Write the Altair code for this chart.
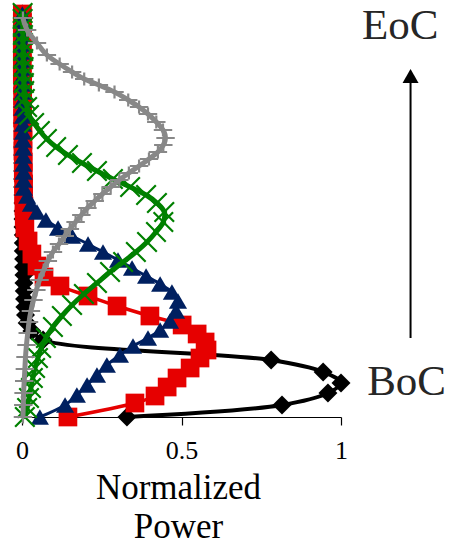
import altair as alt
import pandas as pd

# Axial power profiles over the cycle (BoC -> EoC); height in mm from core bottom
boc_height = [0, 12, 24, 34, 45, 57, 77, 86, 94, 102, 110, 118, 126, 134, 142, 150,
              158, 166, 174, 182, 190, 198, 206, 214, 222, 230, 238, 246, 254, 262,
              270, 278, 286, 294, 302, 310, 318, 326, 334, 342, 350, 358, 366, 374,
              382, 390, 398, 403]
boc_power = [0.329, 0.815, 0.959, 1.0, 0.944, 0.781, 0.066, 0.031, 0.016, 0.011, 0.009,
             0.008, 0.007, 0.006, 0.006, 0.005, 0.005, 0.004, 0.004, 0.004, 0.003, 0.003,
             0.003, 0.003, 0.003, 0.002, 0.002, 0.002, 0.002, 0.002, 0.002, 0.002, 0.002,
             0.001, 0.001, 0.001, 0.001, 0.001, 0.001, 0.001, 0.001, 0.001, 0.001, 0.001,
             0.001, 0.001, 0.001, 0.001]

s2_height = [0, 14, 21, 30, 39, 49, 59, 67, 75, 83, 92, 101, 111, 121, 131, 140, 151,
             163, 176, 189, 200, 211, 222, 233, 244, 255, 266, 277, 288, 299, 310, 321,
             332, 343, 354, 364, 374, 384, 394, 403]
s2_power = [0.144, 0.354, 0.417, 0.455, 0.486, 0.527, 0.558, 0.580, 0.574, 0.549, 0.502,
            0.401, 0.298, 0.207, 0.119, 0.069, 0.047, 0.031, 0.019, 0.009, 0.007, 0.006,
            0.005, 0.005, 0.004, 0.004, 0.003, 0.003, 0.003, 0.002, 0.002, 0.002, 0.002,
            0.001, 0.001, 0.001, 0.001, 0.001, 0.001, 0.001]

s3_height = [0, 12, 22, 32, 42, 52, 62, 71, 79, 87, 96, 106, 116, 125, 133, 141, 149,
             157, 165, 173, 181, 189, 197, 205, 213, 221, 229, 237, 245, 253, 261, 269,
             277, 285, 293, 301, 309, 317, 325, 333, 341, 349, 357, 365, 373, 381, 389,
             397, 403]
s3_power = [0.056, 0.135, 0.172, 0.204, 0.235, 0.266, 0.307, 0.348, 0.395, 0.433, 0.464,
            0.483, 0.489, 0.470, 0.433, 0.389, 0.345, 0.301, 0.254, 0.207, 0.157, 0.113,
            0.075, 0.047, 0.028, 0.016, 0.006, 0.005, 0.005, 0.004, 0.004, 0.004, 0.003,
            0.003, 0.003, 0.003, 0.002, 0.002, 0.002, 0.002, 0.002, 0.002, 0.001, 0.001,
            0.001, 0.001, 0.001, 0.001, 0.001]

s4_height = [0, 9, 19, 29, 39, 49, 59, 69, 79, 90, 101, 112, 123, 134, 145, 155, 165,
             175, 185, 195, 205, 214, 222, 230, 238, 246, 254, 262, 270, 278, 286, 294,
             302, 310, 318, 326, 334, 342, 350, 358, 366, 374, 382, 390, 398, 404]
s4_power = [0.009, 0.016, 0.022, 0.028, 0.034, 0.041, 0.050, 0.060, 0.075, 0.097, 0.125,
            0.157, 0.194, 0.235, 0.276, 0.317, 0.357, 0.392, 0.420, 0.443, 0.446, 0.423,
            0.389, 0.339, 0.285, 0.235, 0.188, 0.144, 0.107, 0.078, 0.056, 0.038, 0.022,
            0.016, 0.009, 0.007, 0.006, 0.005, 0.005, 0.004, 0.004, 0.003, 0.003, 0.003,
            0.002, 0.002]

eoc_height = [0, 12, 24, 36, 48, 60, 72, 84, 95, 106, 117, 127, 137, 147, 156, 165, 173,
              181, 188, 195, 202, 209, 216, 223, 230, 237, 244, 251, 258, 265, 272, 279,
              287, 295, 303, 310, 317, 325, 332, 338, 345, 353, 362, 374, 387, 399]
eoc_power = [0.003, 0.004, 0.005, 0.007, 0.009, 0.011, 0.014, 0.018, 0.022, 0.028, 0.036,
             0.045, 0.055, 0.068, 0.081, 0.097, 0.116, 0.134, 0.150, 0.168, 0.186, 0.205,
             0.228, 0.252, 0.278, 0.305, 0.335, 0.367, 0.398, 0.426, 0.443, 0.450, 0.442,
             0.421, 0.395, 0.367, 0.333, 0.290, 0.241, 0.195, 0.157, 0.118, 0.078, 0.047,
             0.016, 0.003]

series_names = ["BoC", "Step 2", "Step 3", "Step 4", "EoC"]
tick_values = [0, 0.5, 1]
cycle_labels = ["BoC", "EoC"]

SERIF = "'Liberation Serif', 'Times New Roman', Times, serif"
X_PATH = "M-1,-1L1,1M-1,1L1,-1"
PLUS_PATH = "M-1,0L1,0M0,-0.7L0,0.7"

styles = [
    # name, heights, powers, color, line width, marker shape, marker size, filled
    (series_names[0], boc_height, boc_power, "#000000", 4, "diamond", 360, True),
    (series_names[1], s2_height, s2_power, "#e60000", 3.5, "square", 350, True),
    (series_names[2], s3_height, s3_power, "#002060", 3, "triangle-up", 330, True),
    (series_names[3], s4_height, s4_power, "#008000", 5, X_PATH, 380, False),
    (series_names[4], eoc_height, eoc_power, "#888888", 5, PLUS_PATH, 340, False),
]

frames = []
for name, hs, ps, *_ in styles:
    frames.append(pd.DataFrame({"series": name, "height": hs, "power": ps}))
df = pd.concat(frames, ignore_index=True)

x_enc = alt.X(
    "power:Q",
    scale=alt.Scale(domain=[0, 1], nice=False, zero=False),
    axis=alt.Axis(
        values=tick_values,
        format="~g",
        title=["Normalized", "Power"],
        grid=False,
        titleAlign="center",
        titleBaseline="alphabetic",
        titleX=156,
        titleY=81,
    ),
)
y_enc = alt.Y("height:Q", scale=alt.Scale(domain=[0, 403], nice=False, zero=False), axis=None)

base = alt.Chart(df)
layers = []
for name, hs, ps, color, lw, shape, size, filled in styles:
    sub = base.transform_filter(alt.datum.series == name)
    layers.append(
        sub.mark_line(interpolate="catmull-rom", color=color, strokeWidth=lw).encode(
            x=x_enc, y=y_enc, order=alt.Order("height:Q")
        )
    )
    if filled:
        pt = sub.mark_point(shape=shape, size=size, filled=True, color=color, opacity=1, strokeWidth=0)
    else:
        pt = sub.mark_point(shape=shape, size=size, filled=False, color=color, opacity=1,
                            strokeWidth=2.2, strokeCap="butt")
    layers.append(pt.encode(x=x_enc, y=y_enc))

# Cycle direction arrow and its labels, placed in data coordinates (one row each)
one_row = pd.DataFrame({"k": [0]})
arrow = alt.Chart(one_row).mark_rule(color="#000000", strokeWidth=2).encode(
    x=alt.datum(1.218), y=alt.datum(79), y2=alt.datum(334)
)
arrow_head = alt.Chart(one_row).mark_point(
    shape="triangle-up", size=256, filled=True, color="#000000", opacity=1, strokeWidth=0
).encode(x=alt.datum(1.218), y=alt.datum(341))
label_style = dict(font=SERIF, fontSize=43, color="#262626",
                   align="left", baseline="alphabetic")
eoc_text = alt.Chart(pd.DataFrame({"label": [cycle_labels[1]]})).mark_text(**label_style).encode(
    x=alt.datum(1.066), y=alt.datum(378), text="label:N"
)
boc_text = alt.Chart(pd.DataFrame({"label": [cycle_labels[0]]})).mark_text(**label_style).encode(
    x=alt.datum(1.082), y=alt.datum(22), text="label:N"
)

chart = (
    alt.layer(*layers, arrow, arrow_head, eoc_text, boc_text)
    .properties(
        width=319,
        height=403,
        padding={"left": 22, "top": 14, "right": 113, "bottom": 128},
        autosize=alt.AutoSizeParams(type="none"),
        background="#ffffff",
    )
    .configure_view(stroke=None)
    .configure_axis(
        domainColor="#000000",
        domainWidth=1.2,
        tickColor="#000000",
        tickSize=8,
        tickWidth=1.2,
        labelFont=SERIF,
        labelFontSize=26,
        labelColor="#000000",
        labelPadding=12,
        labelFlush=False,
        titleFont=SERIF,
        titleFontSize=35,
        titleFontWeight="normal",
        titleColor="#000000",
        titleLineHeight=39,
    )
)

chart.save("out.html", embed_options={"renderer": "svg", "actions": False})
